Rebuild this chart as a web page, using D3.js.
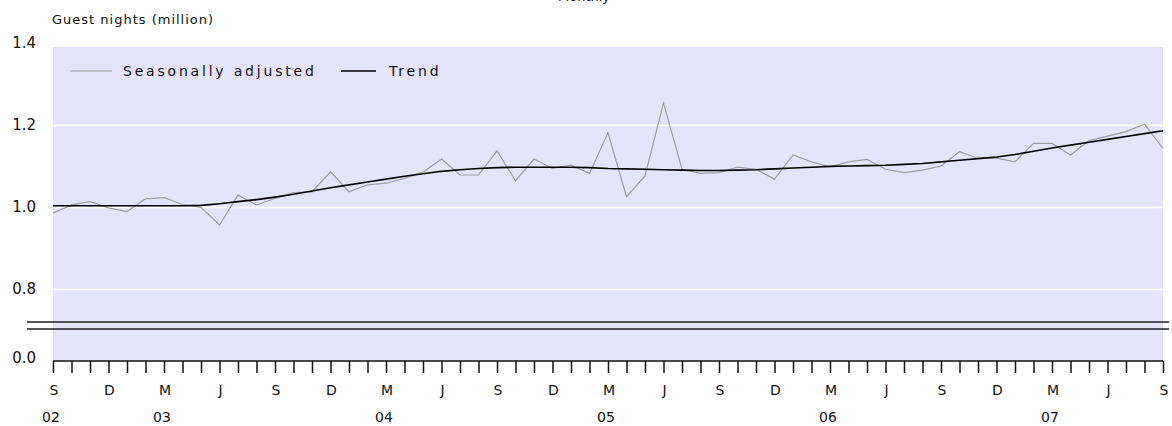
<!DOCTYPE html>
<html>
<head>
<meta charset="utf-8">
<script src="https://cdn.jsdelivr.net/npm/d3@7"></script>
<style>
  html, body { margin: 0; padding: 0; background: #fff; }
  svg { display: block; }
  text { font-family: "DejaVu Sans", Verdana, sans-serif; fill: #111; }
</style>
</head>
<body>
<svg id="chart" width="1172" height="426"></svg>
<script>
// ---- data ----
const months = [
  "2002-09","2002-10","2002-11","2002-12",
  "2003-01","2003-02","2003-03","2003-04","2003-05","2003-06","2003-07","2003-08","2003-09","2003-10","2003-11","2003-12",
  "2004-01","2004-02","2004-03","2004-04","2004-05","2004-06","2004-07","2004-08","2004-09","2004-10","2004-11","2004-12",
  "2005-01","2005-02","2005-03","2005-04","2005-05","2005-06","2005-07","2005-08","2005-09","2005-10","2005-11","2005-12",
  "2006-01","2006-02","2006-03","2006-04","2006-05","2006-06","2006-07","2006-08","2006-09","2006-10","2006-11","2006-12",
  "2007-01","2007-02","2007-03","2007-04","2007-05","2007-06","2007-07","2007-08","2007-09"
];
const seasonallyAdjusted = [
  0.985, 1.005, 1.013, 0.998,
  0.989, 1.020, 1.023, 1.006, 0.999, 0.956, 1.029, 1.005, 1.021, 1.035, 1.037, 1.086,
  1.037, 1.054, 1.058, 1.070, 1.085, 1.117, 1.078, 1.078, 1.137, 1.064, 1.117, 1.094,
  1.102, 1.082, 1.181, 1.025, 1.076, 1.254, 1.092, 1.082, 1.084, 1.097, 1.092, 1.068,
  1.127, 1.110, 1.098, 1.110, 1.116, 1.092, 1.084, 1.090, 1.100, 1.135, 1.119, 1.119,
  1.110, 1.155, 1.155, 1.127, 1.162, 1.173, 1.184, 1.202, 1.143
];
const trend = [
  1.003, 1.003, 1.003, 1.003,
  1.003, 1.003, 1.003, 1.003, 1.004, 1.008, 1.013, 1.018, 1.024, 1.031, 1.039, 1.047,
  1.054, 1.061, 1.068, 1.075, 1.081, 1.087, 1.091, 1.094, 1.096, 1.097, 1.097, 1.097,
  1.097, 1.096, 1.094, 1.093, 1.092, 1.091, 1.090, 1.089, 1.089, 1.090, 1.091, 1.093,
  1.095, 1.097, 1.099, 1.100, 1.101, 1.102, 1.104, 1.106, 1.110, 1.114, 1.118, 1.122,
  1.128, 1.136, 1.144, 1.151, 1.158, 1.165, 1.172, 1.179, 1.186
];
const monthTickLabels = ["S","D","M","J"];           // every third month, starting Sep
const yearLabels = ["02","03","04","05","06","07"];
const yearLabelMonths = ["2002-09","2003-03","2004-03","2005-03","2006-03","2007-03"];
const upperTicks = [1.4, 1.2, 1.0, 0.8];
const gridTicks = [1.2, 1.0, 0.8];
const lowerTicks = [0.0];
const seriesNames = ["Seasonally adjusted", "Trend"];
const title = "Monthly";
const yTitle = "Guest nights (million)";

// ---- layout ----
const svg = d3.select("#chart");
const plotLeft = 53, plotRight = 1163, plotTop = 47, axisY = 361;

const x = d3.scalePoint().domain(months).range([plotLeft, plotRight]);
const y = d3.scaleLinear().domain([0.8, 1.2]).range([289, 125]);   // upper (broken) segment
const yLow = d3.scaleLinear().domain([0.0, 0.1]).range([axisY, axisY - 41]); // below break

// background
svg.append("rect")
  .attr("x", plotLeft).attr("y", plotTop)
  .attr("width", plotRight - plotLeft).attr("height", axisY - plotTop)
  .attr("fill", "#e4e4fc");

// gridlines
svg.append("g").selectAll("line").data(gridTicks).join("line")
  .attr("x1", plotLeft).attr("x2", plotRight)
  .attr("y1", d => Math.round(y(d)) + 0.5).attr("y2", d => Math.round(y(d)) + 0.5)
  .attr("stroke", "#fff").attr("stroke-width", 1.5);

// axis break lines
const breakY = [y(0.8) + 33, y(0.8) + 40];
svg.append("g").selectAll("line").data(breakY).join("line")
  .attr("x1", 27).attr("x2", 1169)
  .attr("y1", d => d).attr("y2", d => d)
  .attr("stroke", "#222").attr("stroke-width", 1.6);

// y tick labels
svg.append("g").selectAll("text").data(upperTicks).join("text")
  .attr("x", 36).attr("y", d => y(d)).attr("dy", "0.36em")
  .attr("text-anchor", "end").attr("font-size", 15)
  .text(d => d.toFixed(1));
svg.append("g").selectAll("text").data(lowerTicks).join("text")
  .attr("x", 36).attr("y", d => yLow(d)).attr("dy", "0.1em")
  .attr("text-anchor", "end").attr("font-size", 15)
  .text(d => d.toFixed(1));

// y title
svg.append("text").attr("x", 52).attr("y", 24)
  .attr("font-size", 13).attr("letter-spacing", 1.0).text(yTitle);

// title (cut at top, as in the original)
svg.append("text").attr("x", 584).attr("y", 1)
  .attr("text-anchor", "middle").attr("font-size", 13).attr("fill", "#333").text(title);

// x axis
const xAxis = d3.axisBottom(x).tickSize(12).tickFormat("");
const gx = svg.append("g").attr("transform", `translate(0,${axisY})`).call(xAxis);
gx.select(".domain").attr("stroke", "#111").attr("stroke-width", 1.5).attr("d", `M${plotLeft},0H${plotRight}`);
gx.selectAll(".tick line").attr("stroke", "#111").attr("stroke-width", 1.5);

// month labels every 3 months
const labeledMonths = months.filter((m, i) => i % 3 === 0);
svg.append("g").selectAll("text").data(labeledMonths).join("text")
  .attr("x", d => x(d) + 1).attr("y", 395)
  .attr("text-anchor", "middle").attr("font-size", 14)
  .text((d, i) => monthTickLabels[i % 4]);

// year labels
svg.append("g").selectAll("text").data(yearLabels).join("text")
  .attr("x", (d, i) => x(yearLabelMonths[i]) - 2).attr("y", 422)
  .attr("text-anchor", "middle").attr("font-size", 14)
  .text(d => d);

// series lines
const line = d3.line().x((d, i) => x(months[i])).y(d => y(d));
svg.append("path").datum(seasonallyAdjusted)
  .attr("d", line).attr("fill", "none").attr("stroke", "#a0a0a0").attr("stroke-width", 1.2);
svg.append("path").datum(trend)
  .attr("d", line).attr("fill", "none").attr("stroke", "#000").attr("stroke-width", 1.6);

// legend
const legend = svg.append("g");
const legendItems = [
  {name: seriesNames[0], color: "#a0a0a0", w: 1.2, x1: 70, x2: 112, tx: 123},
  {name: seriesNames[1], color: "#000", w: 1.6, x1: 341, x2: 376, tx: 389}
];
legendItems.forEach(it => {
  legend.append("line").attr("x1", it.x1).attr("x2", it.x2).attr("y1", 71).attr("y2", 71)
    .attr("stroke", it.color).attr("stroke-width", it.w);
  legend.append("text").attr("x", it.tx).attr("y", 71).attr("dy", "0.35em")
    .attr("font-size", 14).attr("letter-spacing", 2.8).text(it.name);
});
</script>
</body>
</html>
